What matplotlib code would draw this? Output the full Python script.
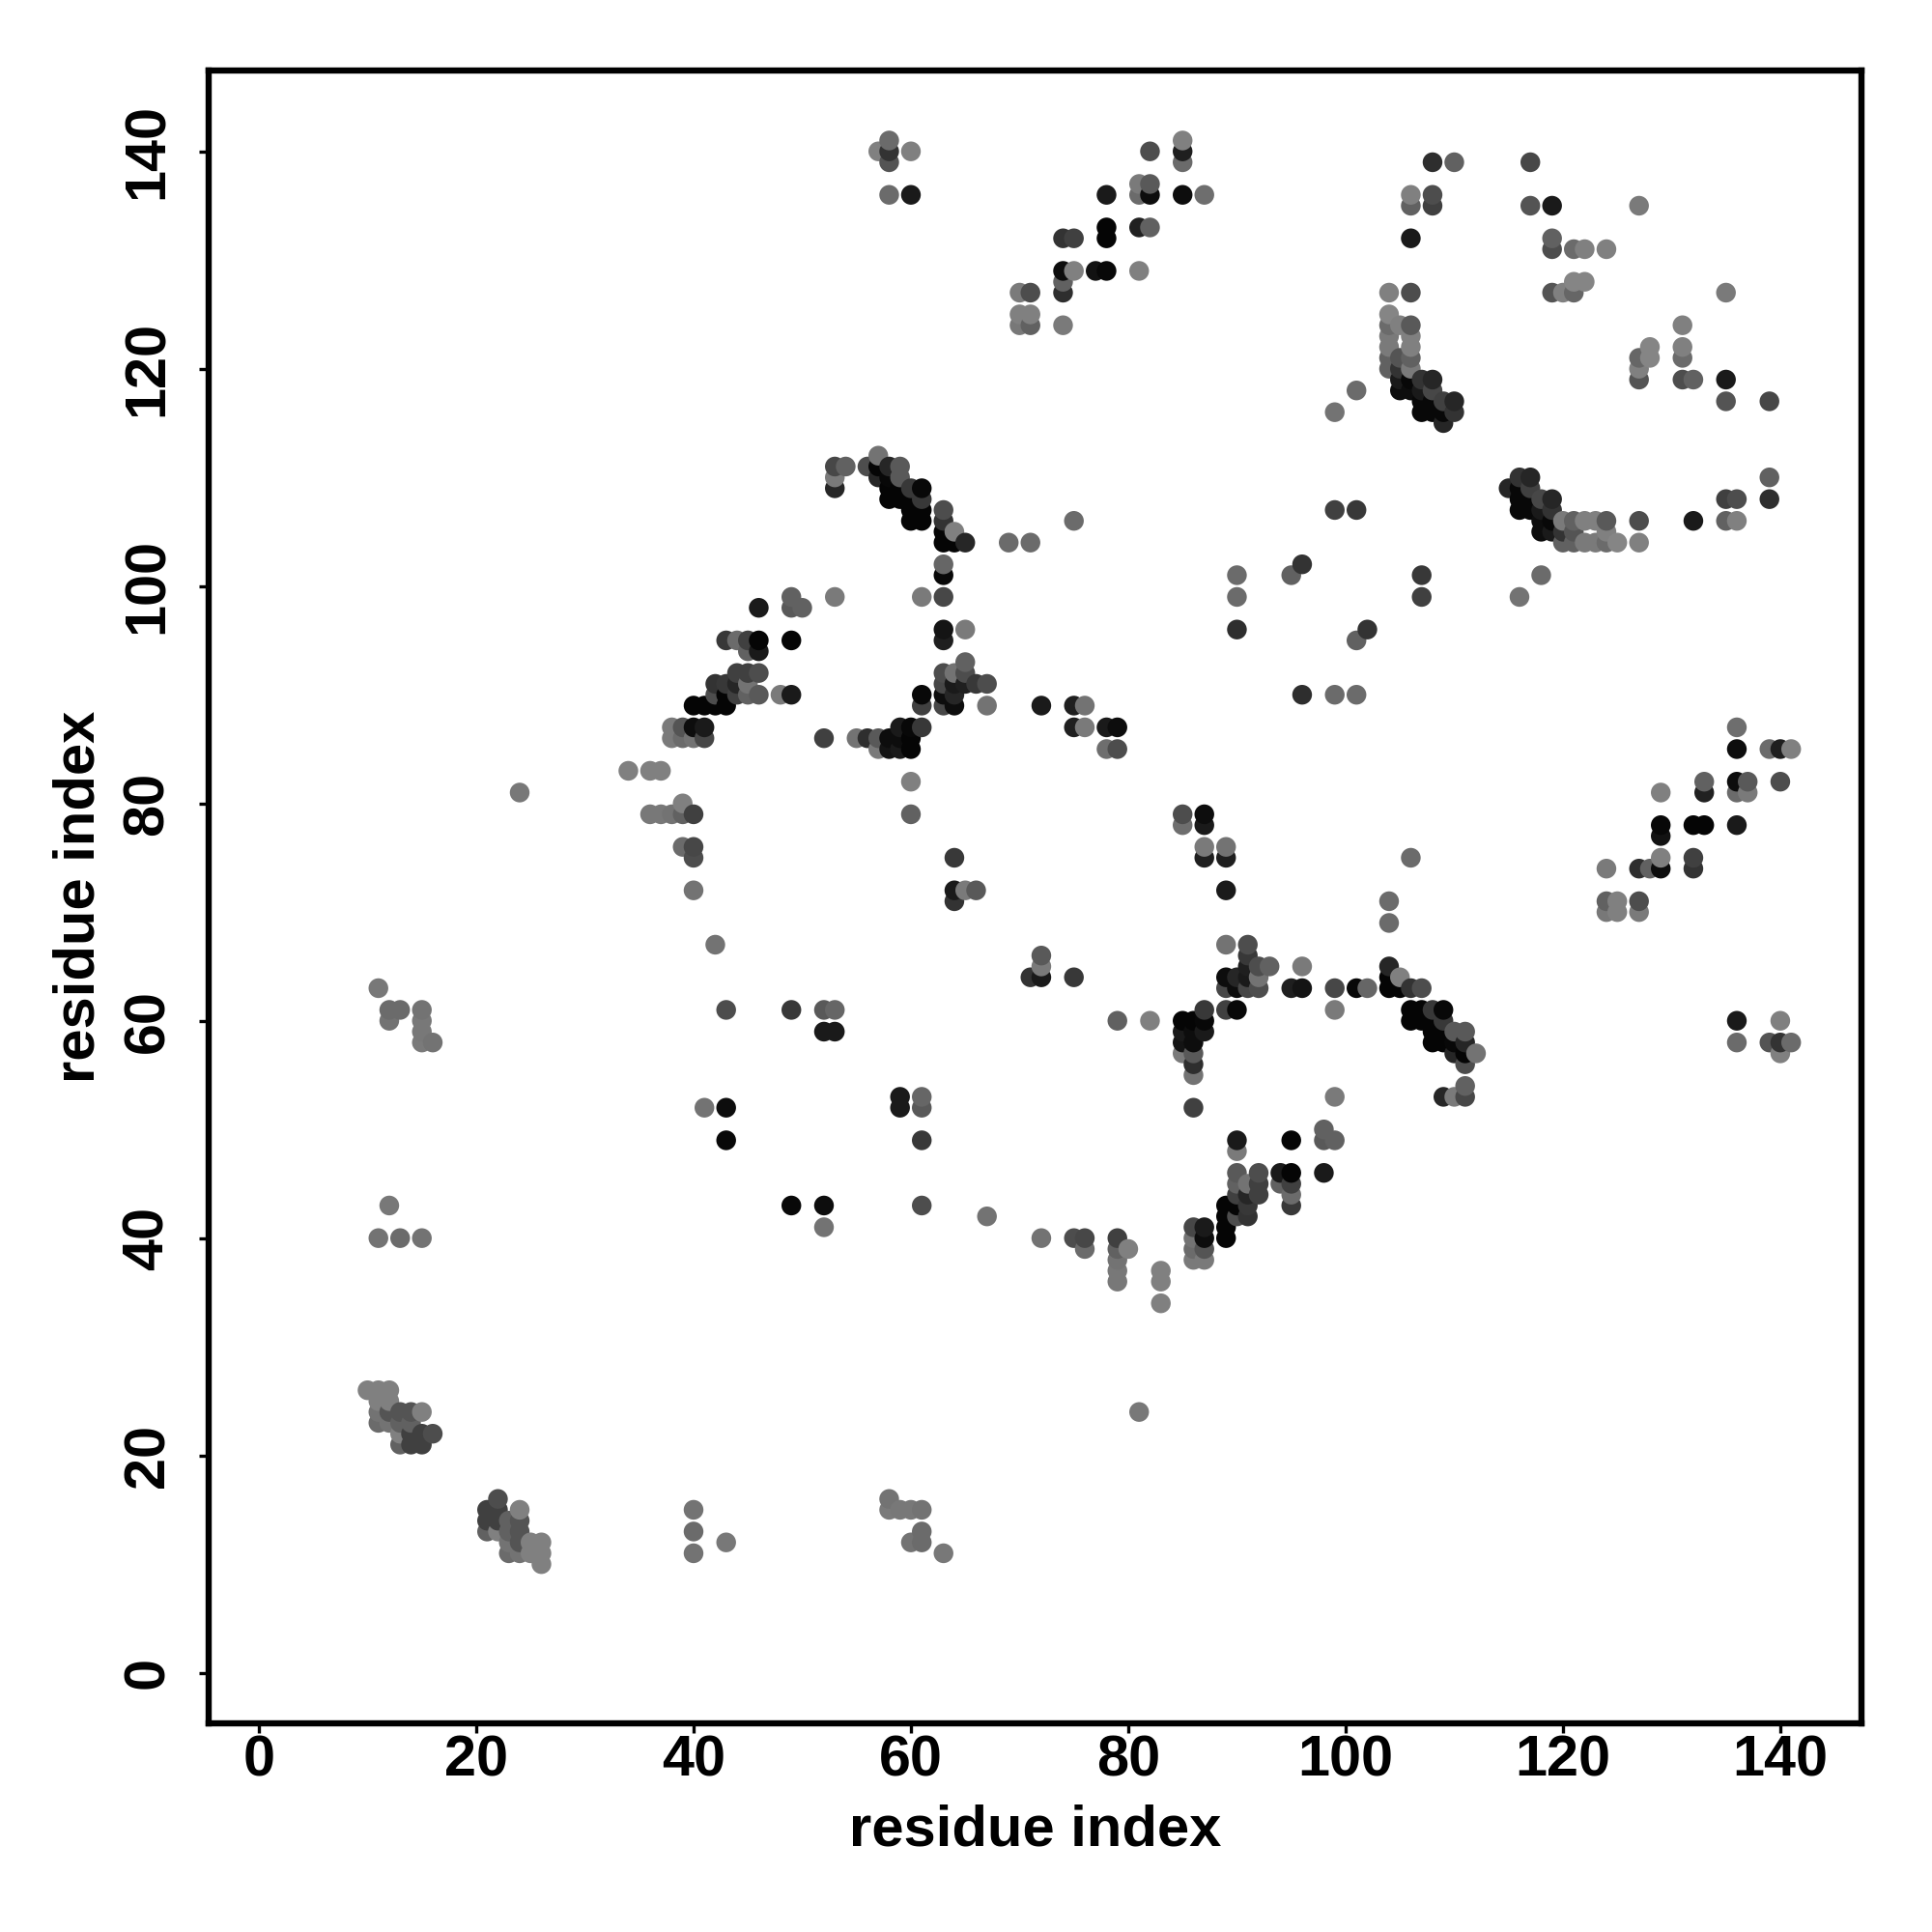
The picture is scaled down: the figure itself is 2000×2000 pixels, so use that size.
import numpy as np
import matplotlib
matplotlib.use('Agg')
import matplotlib.pyplot as plt

plt.rcParams['font.family'] = ['Liberation Sans', 'DejaVu Sans']
plt.rcParams['font.weight'] = 'bold'

# contact pairs, lower residue -> partners, the map is symmetric
first_res = [10, 11, 12, 13, 14, 15, 16, 24, 34, 36, 37, 38, 39, 40, 41, 42, 43, 44, 45,
             46, 48, 49, 50, 52, 53, 54, 55, 56, 57, 58, 59, 60, 61, 63, 64, 65, 66, 67,
             69, 70, 71, 72, 74, 75, 76, 77, 78, 79, 81, 82, 85, 87, 90, 95, 96, 99, 101,
             104, 105, 106, 107, 108, 109, 110, 117, 119, 120, 121, 122, 124, 127]

partners = [
    [26],
    [23, 24, 25, 26, 40, 63],
    [23, 24, 25, 26, 43, 60, 61],
    [21, 22, 23, 24, 40, 61],
    [21, 22, 23, 24],
    [21, 22, 24, 40, 58, 59, 60, 61],
    [22, 58],
    [81],
    [83],
    [79, 83],
    [79, 83],
    [79, 86, 87],
    [76, 79, 80, 86, 87],
    [72, 75, 76, 79, 86, 87, 89],
    [52, 86, 87, 89],
    [67, 89, 90, 91],
    [49, 52, 61, 89, 90, 91, 95],
    [90, 91, 92, 95],
    [90, 91, 92, 94, 95],
    [90, 92, 94, 95, 98],
    [90],
    [61, 90, 95, 98, 99],
    [98],
    [59, 61, 86],
    [59, 61, 99, 109, 110, 111],
    [111],
    [86],
    [86, 111],
    [85, 86, 110, 111, 112, 140],
    [85, 86, 108, 109, 110, 111, 136, 139, 140, 141],
    [85, 86, 87, 108, 109, 110, 111],
    [79, 82, 85, 86, 87, 106, 107, 108, 109, 136, 140],
    [87, 89, 90, 99, 106, 107, 108, 109],
    [89, 90, 91, 92, 95, 96, 99, 101, 102, 104, 105, 106, 107],
    [71, 72, 75, 89, 90, 91, 92, 104, 105],
    [72, 91, 92, 93, 96, 104],
    [72, 91],
    [89, 91],
    [104],
    [124, 125, 127],
    [104, 124, 125, 127],
    [89],
    [124, 127, 128, 129, 132],
    [87, 89, 106, 129, 132],
    [87, 89],
    [129],
    [85, 87, 129, 132, 133, 136],
    [85, 87],
    [129, 133, 136, 137],
    [133, 136, 137, 140],
    [136, 139, 140, 141],
    [136],
    [96, 99, 101],
    [101],
    [102],
    [107, 116],
    [107, 118],
    [120, 121, 122, 123, 124, 125, 127],
    [118, 119, 120, 121, 124],
    [118, 119, 120, 121, 122, 123, 124, 127, 132, 135, 136],
    [116, 117, 118, 119],
    [116, 117, 118, 119, 135, 136, 139],
    [115, 116, 117],
    [116, 117, 139],
    [135, 139],
    [127, 131, 132, 135],
    [127],
    [127, 128, 131],
    [128, 131],
    [131],
    [135],
]

greys = [
    [.5],
    [.42, .45, .5, .5, .45, .47],
    [.45, .33, .5, .5, .47, .45, .42],
    [.38, .5, .38, .33, .42, .42],
    [.25, .25, .38, .33],
    [.25, .25, .5, .45, .48, .47, .47, .45],
    [.3, .45],
    [.47],
    [.5],
    [.47, .5],
    [.47, .5],
    [.45, .48, .48],
    [.42, .38, .5, .42, .33],
    [.45, .3, .28, .25, .45, .05, .02],
    [.45, .28, .1, .02],
    [.45, .02, .3, .2],
    [.03, .05, .3, .02, .02, .22, .22],
    [.25, .15, .25, .42],
    [.38, .45, .25, .38, .25],
    [.35, .3, .1, .02, .1],
    [.48],
    [.22, .1, .02, .35, .38],
    [.38],
    [.1, .35, .25],
    [.1, .4, .48, .15, .48, .28],
    [.38],
    [.45],
    [.18, .3],
    [.48, .35, .15, .02, .45, .5],
    [.08, .05, .02, .02, .03, .15, .42, .33, .2, .42],
    [.1, .05, .1, .02, .02, .35, .35],
    [.38, .5, .02, .02, .03, .02, .02, .02, .22, .1, .5],
    [.22, .25, .03, .48, .02, .02, .22, .03],
    [.28, .05, .28, .3, .12, .08, .28, .03, .4, .02, .02, .2, .3],
    [.2, .1, .22, .05, .15, .1, .45, .02, .5],
    [.48, .12, .3, .38, .48, .15],
    [.35, .22],
    [.45, .3],
    [.42],
    [.47, .5, .48],
    [.42, .38, .5, .3],
    [.1],
    [.48, .18, .38, .05, .2],
    [.12, .12, .42, .5, .25],
    [.48, .45],
    [.07],
    [.43, .1, .03, .02, .02, .1],
    [.3, .05],
    [.5, .13, .42, .48],
    [.38, .05, .35, .3],
    [.05, .42, .12, .5],
    [.43],
    [.18, .42, .42],
    [.38],
    [.2],
    [.25, .45],
    [.22, .42],
    [.38, .38, .48, .48, .42, .52, .5],
    [.05, .1, .2, .33, .5],
    [.05, .03, .48, .38, .5, .5, .35, .3, .1, .38, .5],
    [.03, .03, .1, .2],
    [.03, .03, .28, .15, .25, .3, .18],
    [.15, .03, .25],
    [.2, .15, .38],
    [.33, .28],
    [.33, .3, .38, .1],
    [.5],
    [.4, .52, .42],
    [.52, .5],
    [.5],
    [.48],
]

tick_vals = [0, 20, 40, 60, 80, 100, 120, 140]

res_i = []
res_j = []
level = []
for n in range(len(first_res)):
    for k in range(len(partners[n])):
        res_i += [first_res[n]]
        res_j += [partners[n][k]]
        level += [greys[n][k]]

# both halves of the map, later columns paint over earlier ones
x = np.array(res_i + res_j)
y = np.array(res_j + res_i)
g = np.array(level + level)
order = np.lexsort((y, x))
x = x[order]
y = y[order]
g = g[order]

fig = plt.figure(figsize=(10, 10), dpi=200)
ax = fig.add_axes([0.108, 0.108, 0.8555, 0.8555])
ax.scatter(x, y, s=54, c=[str(v) for v in g], linewidths=0, zorder=3)

ax.set_xlim(-4.62, 147.47)
ax.set_ylim(-4.65, 147.44)
ax.set_xticks(tick_vals)
ax.set_yticks(tick_vals)
ax.tick_params(length=3.6, width=1.2, labelsize=21.4)
ax.tick_params(axis='x', pad=0.5)
ax.tick_params(axis='y', pad=9)
for lab in ax.get_yticklabels():
    lab.set_rotation(90)
    lab.set_va('center')
for sp in ax.spines.values():
    sp.set_linewidth(2.3)

ax.set_xlabel('residue index', fontsize=21.5, fontweight='bold')
ax.set_ylabel('residue index', fontsize=21.5, fontweight='bold')
ax.xaxis.set_label_coords(0.5, -0.049)
ax.yaxis.set_label_coords(-0.062, 0.5)

plt.savefig('out.png', dpi=200)
